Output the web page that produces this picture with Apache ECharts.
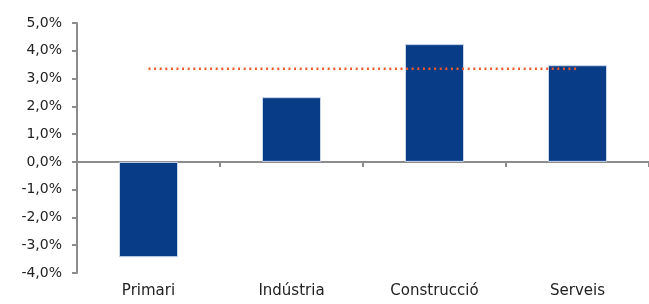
<!DOCTYPE html>
<html>
<head>
<meta charset="utf-8">
<script src="https://cdn.jsdelivr.net/npm/echarts@6/dist/echarts.min.js"></script>
<style>
  html, body { margin: 0; padding: 0; background: #fff; }
  #chart { width: 649px; height: 304px; }
</style>
</head>
<body>
<div id="chart"></div>
<script>
// dades llegides del gràfic
var categories = ['Primari', 'Indústria', 'Construcció', 'Serveis'];
var sectorValues = [-3.43, 2.33, 4.24, 3.48];
var averageValues = [3.35, 3.35, 3.35, 3.35];
var yTicks = { min: -4, max: 5, step: 1 };

var fontName = 'DejaVu Sans';
var axisGrey = '#8c8c8c';

var myChart = echarts.init(document.getElementById('chart'));

var option = {
  animation: false,
  grid: { left: 77, right: 0, top: 23, bottom: 31 },
  xAxis: [
    { // línia del zero amb les marques
      type: 'category',
      data: categories,
      axisLine: { onZero: true, lineStyle: { color: axisGrey, width: 2 } },
      axisTick: { show: true, length: 5, lineStyle: { color: axisGrey, width: 2 } },
      axisLabel: { show: false }
    },
    { // etiquetes a la part de baix
      type: 'category',
      data: categories,
      position: 'bottom',
      axisLine: { show: false, onZero: false },
      axisTick: { show: false },
      axisLabel: { margin: 11, color: '#222', fontFamily: fontName, fontSize: 15 }
    }
  ],
  yAxis: {
    type: 'value',
    min: yTicks.min,
    max: yTicks.max,
    interval: yTicks.step,
    splitLine: { show: false },
    axisLine: { show: true, lineStyle: { color: axisGrey, width: 2 } },
    axisTick: { show: true, length: 5, lineStyle: { color: axisGrey, width: 2 } },
    axisLabel: {
      margin: 15,
      color: '#222',
      fontFamily: fontName,
      fontSize: 14,
      formatter: function (v) { return v.toFixed(1).replace('.', ',') + '%'; }
    }
  },
  series: [
    {
      type: 'bar',
      data: sectorValues,
      barWidth: 59,
      itemStyle: { color: '#083c86', borderColor: '#c9d6ea', borderWidth: 1 }
    },
    {
      type: 'line',
      data: averageValues,
      symbol: 'none',
      lineStyle: { color: '#f05a28', width: 2.5, type: [2, 3.6] },
      z: 5
    }
  ]
};

myChart.setOption(option);
</script>
</body>
</html>
